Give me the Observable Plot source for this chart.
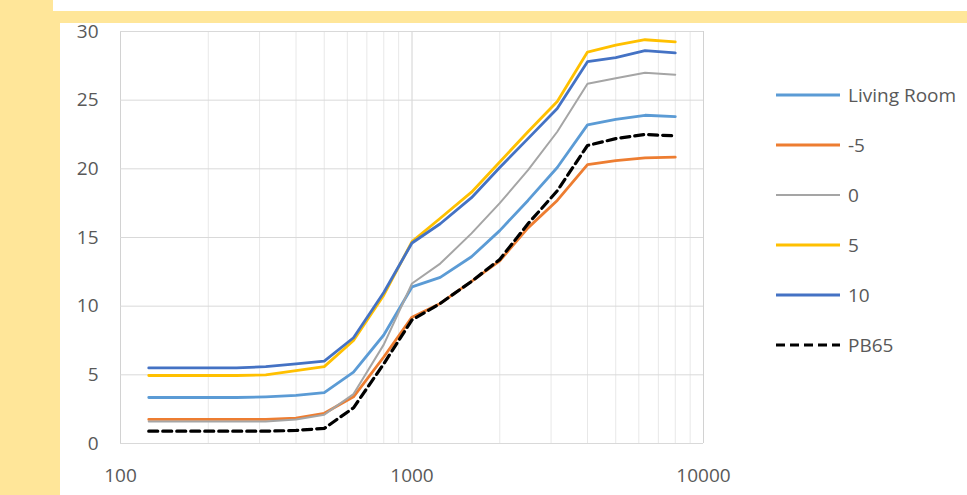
<!DOCTYPE html>
<html><head><meta charset="utf-8">
<script src="https://cdn.jsdelivr.net/npm/d3@7"></script>
<script src="https://cdn.jsdelivr.net/npm/@observablehq/plot@0.6"></script>
<style>
html,body{margin:0;padding:0;background:#fff;}
#wrap{position:relative;width:967px;height:495px;background:#FFE699;overflow:hidden;font-family:"Open Sans",sans-serif;}
#topwhite{position:absolute;left:53px;top:0;width:914px;height:11px;background:#fff;}
#panel{position:absolute;left:60px;top:23px;width:907px;height:472px;background:#fff;}
#chart{position:absolute;left:0;top:0;}
#legend{position:absolute;left:776px;top:0;width:191px;height:495px;}
.item{position:absolute;left:0;height:24px;display:flex;align-items:center;}
.item span{font-size:19px;color:#595959;margin-left:6px;white-space:nowrap;}
</style></head>
<body>
<div id="wrap"><div id="topwhite"></div><div id="panel"></div><div id="chart"></div><div id="legend"></div></div>
<script>
const freqs = [125,160,200,250,315,400,500,630,800,1000,1250,1600,2000,2500,3150,4000,5000,6300,8000];
const livingRoom = [3.35,3.35,3.35,3.35,3.4,3.5,3.7,5.2,7.9,11.4,12.1,13.6,15.5,17.7,20.1,23.2,23.6,23.9,23.8];
const minus5 = [1.75,1.75,1.75,1.75,1.75,1.85,2.2,3.4,6.3,9.2,10.2,11.8,13.3,15.7,17.7,20.3,20.6,20.8,20.85];
const zero = [1.6,1.6,1.6,1.6,1.6,1.75,2.1,3.6,7.2,11.65,13.1,15.3,17.5,19.9,22.7,26.2,26.6,27.0,26.85];
const plus5 = [4.95,4.95,4.95,4.95,5.0,5.3,5.6,7.5,10.8,14.7,16.4,18.3,20.5,22.7,24.9,28.5,29.0,29.4,29.25];
const plus10 = [5.5,5.5,5.5,5.5,5.6,5.8,6.0,7.7,11.0,14.6,16.0,17.9,20.1,22.2,24.4,27.8,28.1,28.6,28.45];
const pb65 = [0.9,0.9,0.9,0.9,0.9,0.95,1.1,2.6,5.8,9.0,10.2,11.8,13.4,16.0,18.4,21.7,22.2,22.5,22.4];
const seriesNames = ["Living Room","-5","0","5","10","PB65"];
const xTickLabels = [100,1000,10000];
const yTickLabels = [0,5,10,15,20,25,30];

const seriesValues = [livingRoom, minus5, zero, plus5, plus10, pb65];
const styles = [
  {stroke:"#5B9BD5", strokeWidth:2.8},
  {stroke:"#ED7D31", strokeWidth:2.8},
  {stroke:"#A5A5A5", strokeWidth:2},
  {stroke:"#FFC000", strokeWidth:2.8},
  {stroke:"#4472C4", strokeWidth:2.8},
  {stroke:"#000000", strokeWidth:3.2, strokeDasharray:"9,5"}
];
const rows = [];
seriesNames.forEach((s,i)=>freqs.forEach((f,j)=>rows.push({series:s,f,v:seriesValues[i][j]})));
const minorTicks = d3.scaleLog().domain([100,10000]).ticks();

const chart = Plot.plot({
  width:967, height:495,
  marginLeft:120, marginRight:264, marginTop:31, marginBottom:52,
  style:{background:"transparent", fontFamily:"'Open Sans', sans-serif"},
  x:{type:"log", domain:[100,10000], label:null},
  y:{domain:[0,30], label:null},
  marks:[
    Plot.gridX(minorTicks.filter(d=>!xTickLabels.includes(d)), {stroke:"#e8e8e8", strokeOpacity:1}),
    Plot.gridX(xTickLabels, {stroke:"#d2d2d2", strokeOpacity:1}),
    Plot.gridY(yTickLabels, {stroke:"#d9d9d9", strokeOpacity:1}),
    Plot.axisX(xTickLabels, {tickSize:0, tickPadding:25, tickFormat:d=>String(d), color:"#595959", fontSize:19, label:null}),
    Plot.axisY(yTickLabels, {tickSize:0, tickPadding:22, tickFormat:d=>String(d), color:"#595959", fontSize:19, label:null}),
    ...seriesNames.map((s,i)=>Plot.line(rows.filter(r=>r.series===s), {x:"f", y:"v", ...styles[i], strokeLinejoin:"round"}))
  ]
});
document.getElementById("chart").appendChild(chart);

const legendTops = [95,145,195,245,295,345];
const legend = document.getElementById("legend");
seriesNames.forEach((s,i)=>{
  const d = document.createElement("div");
  d.className="item";
  d.style.top=(legendTops[i]-12)+"px";
  const st = styles[i];
  d.innerHTML = `<svg width="66" height="8"><line x1="0" x2="64" y1="4" y2="4" stroke="${st.stroke}" stroke-width="${st.strokeWidth}" ${st.strokeDasharray?`stroke-dasharray="${st.strokeDasharray}"`:""}/></svg><span>${s}</span>`;
  legend.appendChild(d);
});
</script>
</body></html>
